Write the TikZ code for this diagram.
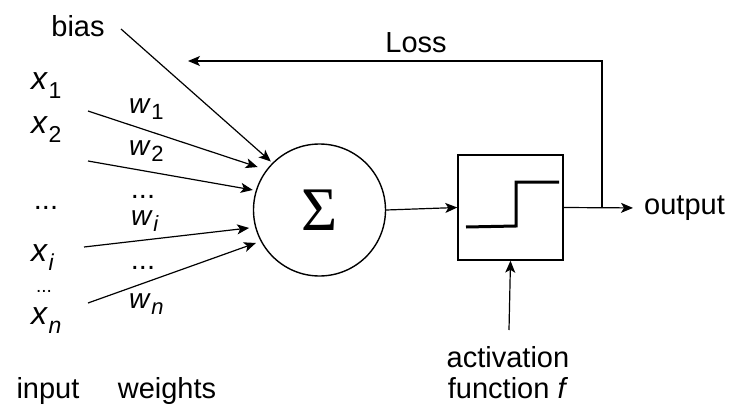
\documentclass[tikz,border=0pt]{standalone}
\usepackage{fontspec}
\setmainfont{Liberation Sans}
\newfontfamily\sigmafont{Liberation Serif}
\usetikzlibrary{arrows.meta}

% variable with a lowered subscript, e.g. x_1
\newcommand\varx[2]{\textit{#1}\kern0.5pt\raisebox{-0.28em}{\fontsize{23}{23}\selectfont #2}}
\newcommand\varw[2]{{\fontsize{28}{28}\selectfont\textit{#1}}\kern0.5pt\raisebox{-0.22em}{\fontsize{22}{22}\selectfont #2}}

\begin{document}
\begin{tikzpicture}[x=1pt,y=-1pt,
  lbl/.style={font=\fontsize{29}{34}\selectfont, inner sep=0pt},
  var/.style={font=\fontsize{32}{34}\selectfont, inner sep=0pt, anchor=west},
  wgt/.style={font=\fontsize{28}{30}\selectfont, inner sep=0pt, anchor=west},
  conn/.style={line width=1.2pt, -{Stealth[length=12pt,width=10pt,inset=3pt]}}]
\path[use as bounding box] (0,0) rectangle (731,407);

% summation unit and activation block
\node[draw, circle, line width=1.4pt, minimum size=132pt, inner sep=0pt] (sum) at (319.5,210)
  {\sigmafont\fontsize{62}{62}\selectfont Σ};
\node[draw, rectangle, line width=1.4pt, minimum width=105pt, minimum height=105pt, inner sep=0pt] (act) at (510.5,207.5) {};
% step function drawn inside the block
\draw[line width=3pt] (466,227) -- (516,226) -- (516,182) -- (559,182);

% labels
\node[lbl] (bias) at (78,26) {bias};
\node[lbl] (loss) at (416,43) {Loss};
\node[lbl, anchor=west] (output) at (644,208) {output};
\node[lbl] (input) at (48,391) {input};
\node[lbl] (weights) at (167,391) {weights};
\node[lbl, align=center] (activation) at (508,373) {activation\\[-3pt]function \textit{f}};

% inputs
\node[var] (x1) at (31,86) {\varx{x}{1}};
\node[var] (x2) at (31,130) {\varx{x}{2}};
\node[lbl] (xdots) at (46,208) {...};
\node[var] (xi) at (31,258) {\varx{x}{\textit{i}}};
\node[lbl, font=\fontsize{19}{20}\selectfont] (xdotsb) at (44,291) {...};
\node[var] (xn) at (31,321) {\varx{x}{\textit{n}}};

% weights
\node[wgt] (w1) at (129,109) {\varw{w}{1}};
\node[wgt] (w2) at (129,151) {\varw{w}{2}};
\node[lbl] (wdots) at (143,197) {...};
\node[wgt] (wi) at (131,221) {\varw{w}{\textit{i}}};
\node[lbl] (wdotsb) at (143,268) {...};
\node[wgt] (wn) at (129,304) {\varw{w}{\textit{n}}};

% connector start points
\coordinate (s1) at (88,111);
\coordinate (s2) at (88,161);
\coordinate (si) at (84,247);
\coordinate (sn) at (88,303);
\coordinate (sb) at (121,29);
\coordinate (fb) at (602,208);
\coordinate (fbend) at (188,61);
\coordinate (actin) at (509,330);

\draw[conn, shorten >=2pt] (sb) -- (sum.135.2);
\draw[conn, shorten >=9pt] (s1) -- (sum.143.6);
\draw[conn, shorten >=3pt] (s2) -- (sum.163.8);
\draw[conn, shorten >=6pt] (si) -- (sum.195.2);
\draw[conn, shorten >=5pt] (sn) -- (sum.208.4);

% forward path
\draw[conn] (sum.east) -- (act.west);
\draw[conn, shorten >=11pt] (act.east) -- (output.west);
\draw[conn] (actin) -- (act.south);

% loss feedback
\draw[conn] (fb) |- (fbend);
\end{tikzpicture}
\end{document}
